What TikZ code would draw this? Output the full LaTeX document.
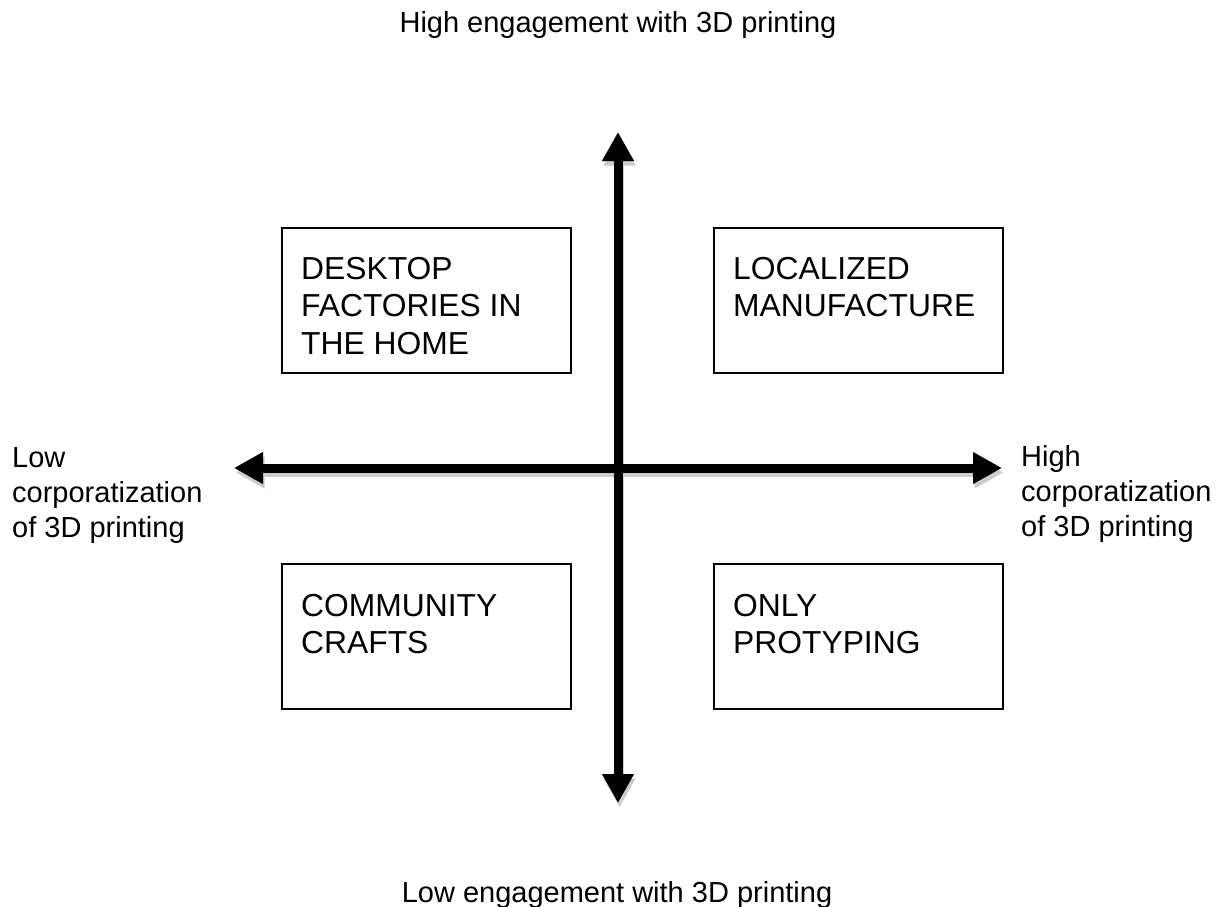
\documentclass[tikz,border=0pt]{standalone}
\usepackage{fontspec}
\setmainfont{Liberation Sans}
\usetikzlibrary{arrows.meta,calc}
\tikzset{
  boxtext/.style={anchor=north west, inner sep=0pt, align=left, font=\fontsize{31.8}{37.5}\selectfont},
  axlabel/.style={inner sep=0pt, font=\fontsize{29}{35}\selectfont},
  quadbox/.style={draw=black, line width=1.5pt, minimum width=289pt, minimum height=145pt, anchor=north west, inner sep=0pt, outer sep=0pt},
  axisline/.style={line width=9pt, {Triangle[length=29pt,width=30pt]}-{Triangle[length=29pt,width=30pt]}},
  axisshadow/.style={axisline, draw=black!20},
}
\begin{document}
\begin{tikzpicture}[x=1pt,y=-1pt]
\useasboundingbox (0,0) rectangle (1222,906);
\fill[white] (0,0) rectangle (1222,906);
% axis end points
\coordinate (top) at (618,132);
\coordinate (bot) at (618,803);
\coordinate (lft) at (234,468);
\coordinate (rgt) at (1002,468);
% shadows
\draw[axisshadow] ($(lft)+(1.5,4.5)$) -- ($(rgt)+(1.5,4.5)$);
\draw[axisshadow] ($(top)+(1.5,4.5)$) -- ($(bot)+(1.5,4.5)$);
% axes
\draw[axisline] (lft) -- (rgt);
\draw[axisline] (top) -- (bot);
% boxes
\node[quadbox] (b1) at (282,228) {};
\node[quadbox] (b2) at (714,228) {};
\node[quadbox] (b3) at (282,564) {};
\node[quadbox] (b4) at (714,564) {};
\node[boxtext] (t1) at ($(b1.north west)+(19,29)$) {DESKTOP\\FACTORIES IN\\THE HOME};
\node[boxtext] (t2) at ($(b2.north west)+(19,29)$) {LOCALIZED\\MANUFACTURE};
\node[boxtext] (t3) at ($(b3.north west)+(19,30)$) {COMMUNITY\\CRAFTS};
\node[boxtext] (t4) at ($(b4.north west)+(19,30)$) {ONLY\\PROTYPING};
% axis labels
\node[axlabel, anchor=base] (ltop) at (618,32) {High engagement with 3D printing};
\node[axlabel, anchor=base] (lbot) at (617,902) {Low engagement with 3D printing};
\node[axlabel, anchor=north west, align=left] (llft) at (12,447) {Low\\corporatization\\of 3D printing};
\node[axlabel, anchor=north west, align=left] (lrgt) at (1021,445) {High\\corporatization\\of 3D printing};
\end{tikzpicture}
\end{document}
